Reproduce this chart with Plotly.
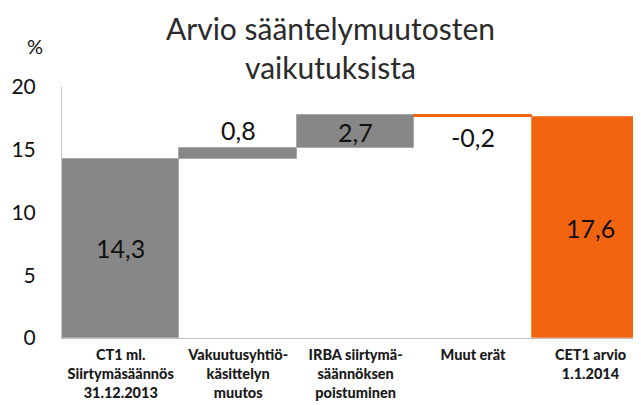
import plotly.graph_objects as go

categories = ["CT1 ml.<br>Siirtymäsäännös<br>31.12.2013",
              "Vakuutusyhtiö-<br>käsittelyn<br>muutos",
              "IRBA siirtymä-<br>säännöksen<br>poistuminen",
              "Muut erät",
              "CET1 arvio<br>1.1.2014"]
values = [14.3, 0.8, 2.7, -0.2, 17.6]
kinds = ["total", "delta", "delta", "delta", "total"]
labels = ["14,3", "0,8", "2,7", "-0,2", "17,6"]
y_ticks = [0, 5, 10, 15, 20]

GREY = "#878787"
ORANGE = "#f2640f"
colors = [GREY, GREY, GREY, ORANGE, ORANGE]
line_colors = ["#a8a8a8", "#a8a8a8", "#a8a8a8", ORANGE, "#f58a4a"]

bases, heights = [], []
running = 0.0
for v, k in zip(values, kinds):
    if k == "total":
        bases.append(0.0)
        heights.append(v)
        running = v
    else:
        if v >= 0:
            bases.append(running)
            heights.append(v)
        else:
            bases.append(running + v)
            heights.append(-v)
        running += v

xs = list(range(len(categories)))

fig = go.Figure()
fig.add_trace(go.Bar(
    x=xs, y=heights, base=bases, width=1.0,
    marker=dict(color=colors, line=dict(color=line_colors, width=1)),
    hoverinfo="skip", showlegend=False,
))

FONT = "Lato, Calibri, sans-serif"
LAB = dict(size=25, color="#111", family=FONT)
ann = []
for i, (b, h, k, v, lab) in enumerate(zip(bases, heights, kinds, values, labels)):
    if k == "total" or i == 2:
        ann.append(dict(x=i, y=b + h / 2, text=lab, showarrow=False,
                        xanchor="center", yanchor="middle", font=LAB))
    elif v >= 0:
        ann.append(dict(x=i, y=b + h, text=lab, showarrow=False, yshift=18,
                        xanchor="center", yanchor="middle", font=LAB))
    else:
        ann.append(dict(x=i, y=b, text=lab, showarrow=False, yshift=-20,
                        xanchor="center", yanchor="middle", font=LAB))

TITLE = dict(size=30, color="#2b2b2b", family=FONT)
ann.append(dict(xref="paper", yref="paper", x=0.463, y=1.235, text="Arvio sääntelymuutosten",
                showarrow=False, xanchor="center", yanchor="middle", font=TITLE))
ann.append(dict(xref="paper", yref="paper", x=0.463, y=1.08, text="vaikutuksista",
                showarrow=False, xanchor="center", yanchor="middle", font=TITLE))
ann.append(dict(xref="paper", yref="paper", x=-0.047, y=1.165, text="%",
                showarrow=False, xanchor="center", yanchor="middle",
                font=dict(size=20, color="#111", family=FONT)))

# page body has an 8px default margin: shrink the figure and margins to compensate
fig.update_layout(
    width=633, height=397,
    margin=dict(l=54, r=0, t=79, b=67),
    paper_bgcolor="white", plot_bgcolor="white",
    bargap=0,
    annotations=ann,
    xaxis=dict(
        tickmode="array", tickvals=xs, ticktext=categories,
        range=[-0.5, 4.43], showgrid=False, zeroline=False,
        showline=True, linecolor="#bfbfbf", linewidth=1,
        ticks="", ticklabelstandoff=4,
        tickfont=dict(size=14.5, color="#1a1a1a", family=FONT, weight=900),
        tickangle=0,
    ),
    yaxis=dict(
        range=[0, 20], tickvals=y_ticks, showgrid=False, zeroline=False,
        showline=True, linecolor="#c8c8c8", linewidth=1,
        ticks="", ticklabelstandoff=21,
        tickfont=dict(size=21, color="#111", family=FONT),
    ),
)

fig.write_html("out.html")
